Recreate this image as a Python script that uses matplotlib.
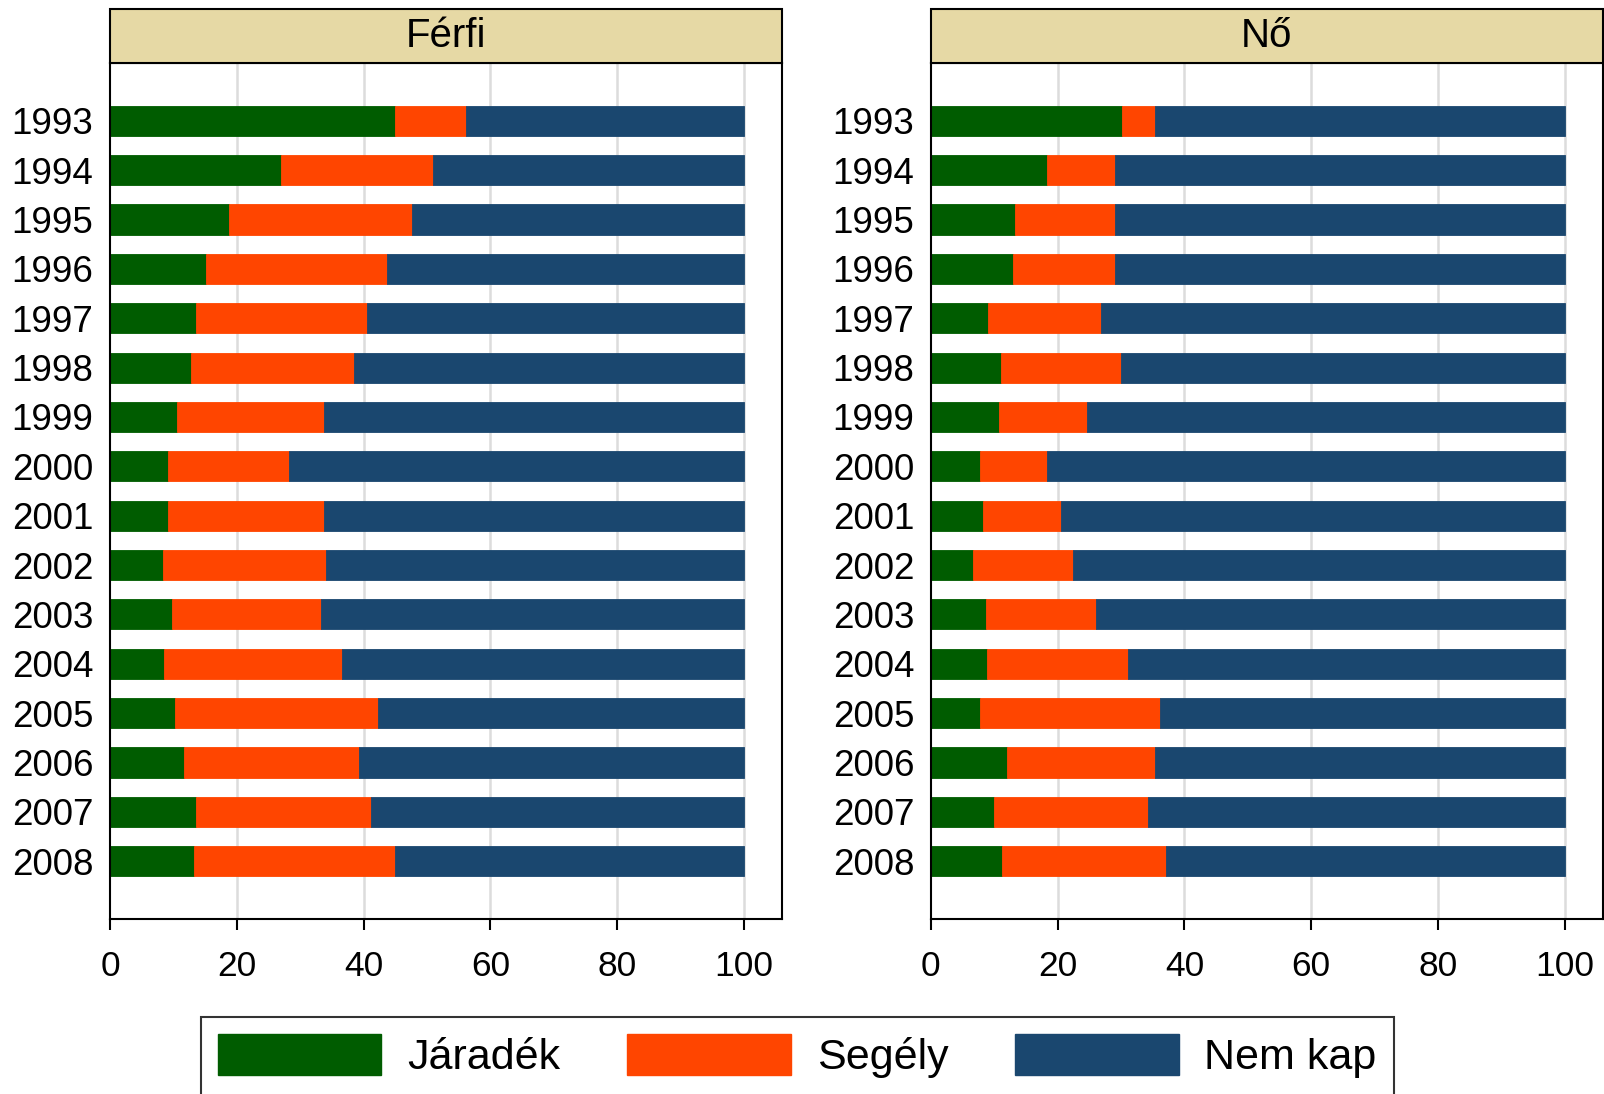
import matplotlib.pyplot as plt
from matplotlib.patches import Patch, Rectangle

plt.rcParams['font.family'] = ['Liberation Sans', 'DejaVu Sans']

years = ['1993', '1994', '1995', '1996', '1997', '1998', '1999', '2000',
         '2001', '2002', '2003', '2004', '2005', '2006', '2007', '2008']

# Férfi
ferfi_jaradek = [45.0, 26.9, 18.8, 15.2, 13.6, 12.7, 10.6, 9.2,
                 9.2, 8.4, 9.7, 8.5, 10.2, 11.7, 13.5, 13.2]
ferfi_segely = [11.2, 24.0, 28.9, 28.5, 26.9, 25.8, 23.2, 19.1,
                24.6, 25.6, 23.5, 28.1, 32.0, 27.5, 27.7, 31.7]
ferfi_nemkap = [43.8, 49.1, 52.3, 56.3, 59.5, 61.5, 66.2, 71.7,
                66.2, 66.0, 66.8, 63.4, 57.8, 60.8, 58.8, 55.1]

# Nő
no_jaradek = [30.2, 18.4, 13.3, 13.0, 9.0, 11.0, 10.7, 7.7,
              8.2, 6.7, 8.7, 8.9, 7.7, 12.0, 10.0, 11.2]
no_segely = [5.1, 10.6, 15.7, 16.0, 17.8, 19.0, 13.9, 10.6,
             12.4, 15.7, 17.3, 22.2, 28.4, 23.3, 24.3, 25.9]
no_nemkap = [64.7, 71.0, 71.0, 71.0, 73.2, 70.0, 75.4, 81.7,
             79.4, 77.6, 74.0, 68.9, 63.9, 64.7, 65.7, 62.9]

series_names = ['Járadék', 'Segély', 'Nem kap']
colors = ['#005c00', '#ff4500', '#1a476f']

panels = [
    ('Férfi', [ferfi_jaradek, ferfi_segely, ferfi_nemkap]),
    ('Nő', [no_jaradek, no_segely, no_nemkap]),
]

fig = plt.figure(figsize=(16.04, 10.94), dpi=100)
lefts = [0.0686, 0.5803]

for (title, data), left in zip(panels, lefts):
    ax = fig.add_axes([left, 0.16, 0.419, 0.7824])
    pos = list(range(len(years)))
    start = [0.0] * len(years)
    for vals, col in zip(data, colors):
        ax.barh(pos, vals, left=start, height=0.61, color=col,
                edgecolor=col, linewidth=0.6, zorder=2)
        start = [s + v for s, v in zip(start, vals)]

    ax.set_xlim(0, 106)
    ax.set_ylim(len(years) - 1 + 1.17, -1.17)
    ax.set_yticks(pos)
    ax.set_yticklabels(years)
    ax.set_xticks([0, 20, 40, 60, 80, 100])
    for g in [20, 40, 60, 80, 100]:
        ax.axvline(g, color='#dcdcdc', linewidth=1.8, zorder=1)

    ax.tick_params(axis='y', length=0, pad=12, labelsize=26.5)
    ax.tick_params(axis='x', length=8, width=1.5, pad=14, labelsize=25.5)
    for sp in ax.spines.values():
        sp.set_linewidth(1.5)
        sp.set_color('black')

    # strip header
    ax.add_patch(Rectangle((0, 1.0), 1, 0.063, transform=ax.transAxes,
                           facecolor='#e6d9a5', edgecolor='black',
                           linewidth=1.5, clip_on=False, zorder=3))
    ax.text(0.5, 1.0315, title, transform=ax.transAxes, ha='center',
            va='center', fontsize=29, zorder=4)

handles = [Patch(facecolor=c, edgecolor=c) for c in colors]
leg = fig.legend(handles, series_names, loc='upper center',
                 bbox_to_anchor=(0.497, 0.0706), ncol=3, fontsize=31,
                 frameon=True, fancybox=False, borderaxespad=0,
                 handlelength=3.8, handleheight=1.1, handletextpad=0.6,
                 columnspacing=1.55, borderpad=0.4)
leg.get_frame().set_edgecolor('black')
leg.get_frame().set_linewidth(1.5)

fig.savefig('out.png', dpi=100)
